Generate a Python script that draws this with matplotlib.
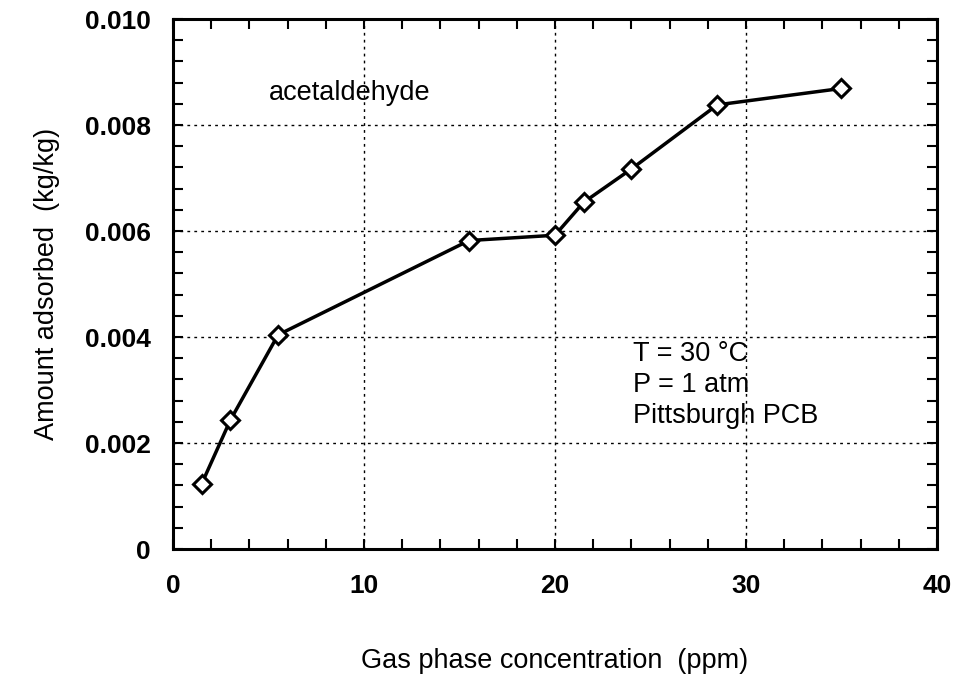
import matplotlib
matplotlib.use("Agg")
import matplotlib.pyplot as plt
from matplotlib.ticker import MultipleLocator, FixedFormatter, FixedLocator

plt.rcParams["font.family"] = ["Liberation Sans", "DejaVu Sans"]

# acetaldehyde adsorption isotherm
conc_ppm = [1.5, 3.0, 5.5, 15.5, 20.0, 21.5, 24.0, 28.5, 35.0]
adsorbed = [0.00123, 0.00243, 0.00404, 0.00582, 0.00592, 0.00654, 0.00717, 0.00838, 0.00869]

x_ticks = [0, 10, 20, 30, 40]
x_tick_labels = ["0", "10", "20", "30", "40"]
y_ticks = [0, 0.002, 0.004, 0.006, 0.008, 0.010]
y_tick_labels = ["0", "0.002", "0.004", "0.006", "0.008", "0.010"]

fig = plt.figure(figsize=(9.57, 6.86), dpi=100)
ax = fig.add_axes([0.1808, 0.1997, 0.7982, 0.7726])

ax.plot(conc_ppm, adsorbed, color="black", lw=2.5, marker="D", ms=9.5,
        mfc="white", mec="black", mew=2.2, zorder=3)

ax.set_xlim(0, 40)
ax.set_ylim(0, 0.010)
ax.xaxis.set_major_locator(FixedLocator(x_ticks))
ax.xaxis.set_major_formatter(FixedFormatter(x_tick_labels))
ax.yaxis.set_major_locator(FixedLocator(y_ticks))
ax.yaxis.set_major_formatter(FixedFormatter(y_tick_labels))
ax.xaxis.set_minor_locator(MultipleLocator(2))
ax.yaxis.set_minor_locator(MultipleLocator(0.0004))

ax.tick_params(which="both", direction="in", top=True, right=True,
               length=7, width=1.5, colors="black")
ax.tick_params(axis="x", which="major", labelsize=19, pad=18)
ax.tick_params(axis="y", which="major", labelsize=19, pad=16)
for lab in ax.get_xticklabels() + ax.get_yticklabels():
    lab.set_fontweight("bold")

for s in ax.spines.values():
    s.set_linewidth(2.2)

ax.grid(True, which="major", color="black", linestyle=(0, (2, 3)), lw=1.0)

ax.set_xlabel("Gas phase concentration  (ppm)", fontsize=19.5, labelpad=36)
ax.set_ylabel("Amount adsorbed  (kg/kg)", fontsize=19.5, labelpad=18)

ax.text(5.0, 0.0086, "acetaldehyde", fontsize=19.5, va="center", ha="left")
ax.text(24.1, 0.00392, "T = 30 \u00b0C\nP = 1 atm\nPittsburgh PCB",
        fontsize=19.5, va="top", ha="left", linespacing=1.25)

fig.savefig("out.png", dpi=100)
